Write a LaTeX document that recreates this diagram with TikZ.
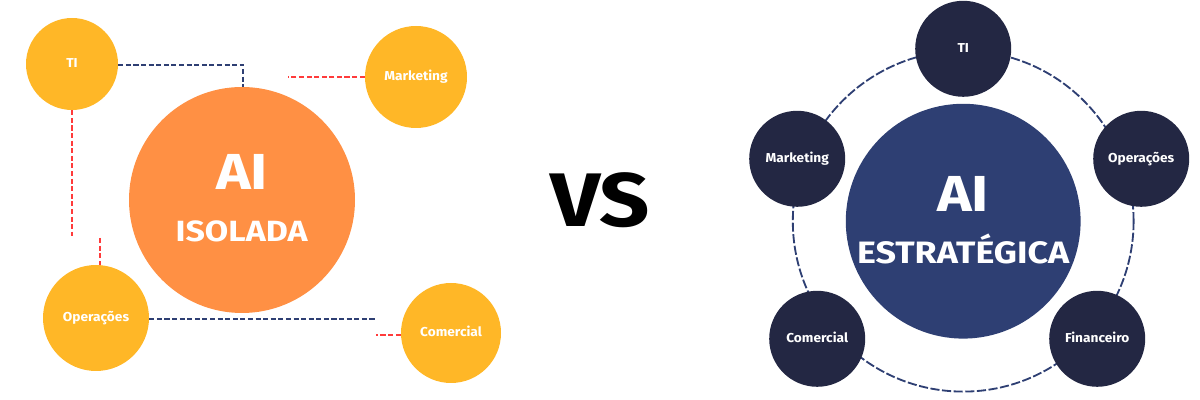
\documentclass[tikz,border=0pt]{standalone}
\usepackage{fontspec}
\setmainfont{Fira Sans}[BoldFont={Fira Sans Bold}]
\newfontfamily\widefont{Fira Sans Bold}[FakeStretch=1.16]
\newfontfamily\labelfont{Fira Sans Bold}[FakeStretch=1.06]
\definecolor{sunyellow}{HTML}{FFB727}
\definecolor{softorange}{HTML}{FF9044}
\definecolor{deepnavy}{HTML}{232743}
\definecolor{midnavy}{HTML}{2E3F73}
\definecolor{linered}{HTML}{FF3B3B}
\tikzset{
    dot/.style={circle,inner sep=0pt,text=white,font=\labelfont\fontsize{9.2}{10}\selectfont,text height=7.5pt,text depth=2.8pt},
    yellowdot/.style={dot,fill=sunyellow},
    navydot/.style={dot,fill=deepnavy,minimum size=2.4cm},
    bigtitle/.style={text=white,anchor=base,inner sep=0pt,font=\widefont\fontsize{36}{40}\selectfont},
    subtitle/.style={text=white,anchor=base,inner sep=0pt,font=\widefont\fontsize{22}{24}\selectfont},
    redlink/.style={linered,line width=1.3pt,dash pattern=on 3.6pt off 1.8pt},
    navylink/.style={midnavy,line width=1.3pt,dash pattern=on 3.6pt off 1.8pt},
}
\begin{document}
\begin{tikzpicture}
    \useasboundingbox (0,0) rectangle (30,10);
    % left side
    \node[yellowdot,minimum size=2.3cm] (ti) at (1.8,8.4) {TI};
    \node[yellowdot,minimum size=2.55cm] (mkt) at (10.4,8.075) {Marketing};
    \node[circle,fill=softorange,minimum size=5.65cm,inner sep=0pt] (ail) at (6.05,5) {};
    \node[yellowdot,minimum size=2.65cm] (ops) at (2.4,2.05) {Operações};
    \node[yellowdot,minimum size=2.5cm] (com) at (11.275,1.675) {Comercial};
    \node[bigtitle] (ailtxt) at (6.05,5.25) {AI};
    \node[subtitle,font=\widefont\fontsize{20.8}{24}\selectfont] (isotxt) at (6.04,3.95) {ISOLADA};
    \coordinate (corner) at (6.08,8.38);
    \coordinate (mktend) at (7.2,8.08);
    \coordinate (tiend) at (1.8,4.1);
    \coordinate (opsend) at (2.5,4.05);
    \coordinate (opsfar) at (9.42,2.02);
    \coordinate (comend) at (9.4,1.62);
    \draw[navylink] (ti.east |- corner) -- (corner) -- (corner |- ail.north);
    \draw[redlink] (mkt.west |- mktend) -- (mktend);
    \draw[redlink] (ti.south) -- (tiend);
    \draw[redlink] (opsend) -- (opsend |- ops.north);
    \draw[navylink] (ops.east |- opsfar) -- (opsfar);
    \draw[redlink] (com.west |- comend) -- (comend);
    % middle
    \node[text=black,inner sep=0pt,font=\widefont\fontsize{54}{60}\selectfont] (vs) at (15,5) {VS};
    % right side
    \node[circle,draw=midnavy,line width=1.3pt,dash pattern=on 6.5pt off 1.8pt,minimum size=8.52cm,inner sep=0pt] (ring) at (24.08,4.47) {};
    \node[circle,fill=midnavy,minimum size=5.87cm,inner sep=0pt] (air) at (24.08,4.47) {};
    \node[navydot] (tir) at (24.08,8.78) {TI};
    \node[navydot] (opsr) at (28.53,6.03) {Operações};
    \node[navydot] (mktr) at (19.93,6.03) {Marketing};
    \node[navydot] (comr) at (20.43,1.53) {Comercial};
    \node[navydot] (fin) at (27.43,1.53) {Financeiro};
    \node[bigtitle] (airtxt) at (24.08,4.72) {AI};
    \node[subtitle] (esttxt) at (24.08,3.4) {ESTRATÉGICA};
\end{tikzpicture}
\end{document}
